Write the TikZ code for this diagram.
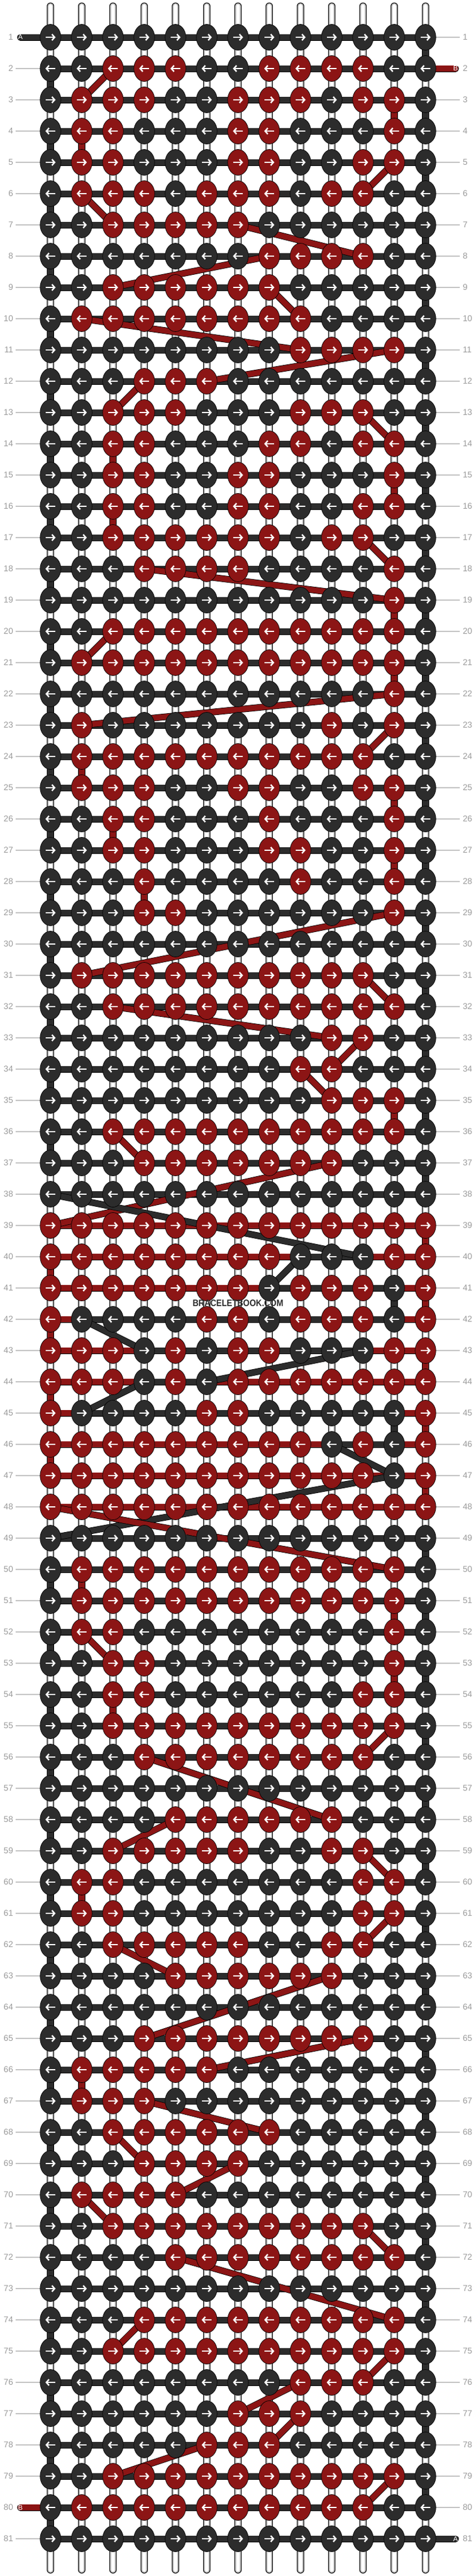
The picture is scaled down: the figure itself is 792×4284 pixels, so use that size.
\documentclass[tikz,border=0pt]{standalone}
\usepackage{fontspec}
\setmainfont{Liberation Sans}
\newfontfamily\watermarkfont[FakeStretch=0.88]{Liberation Sans}
\usetikzlibrary{shapes.geometric,arrows.meta}

\definecolor{darkthread}{HTML}{2C2C2C}
\definecolor{redthread}{HTML}{8C1515}
\definecolor{rownum}{HTML}{9B9B9B}
\definecolor{rowline}{HTML}{C4C4C4}
\definecolor{tubeedge}{HTML}{B8B8B8}

\pgfdeclarelayer{background}
\pgfdeclarelayer{tubes}
\pgfdeclarelayer{threads}
\pgfsetlayers{background,tubes,threads,main}

\tikzset{
    thread/.style={draw=black, line width=0.8pt, double=#1, double distance=9.4pt},
    stub/.style={thread=#1, line cap=round},
    tube/.style={line cap=round, line width=#1},
}

\newcount\minA \newcount\maxA \newcount\minB \newcount\maxB
\newcount\lastArow \newcount\lastAcol \newcount\lastBrow \newcount\lastBcol
\newcount\inKnot \newcount\outKnot
\def\readspan#1/#2/#3/#4\relax{\def\loA{#1}\def\hiA{#2}\def\loB{#3}\def\hiB{#4}}

\begin{document}
\begin{tikzpicture}[x=1pt, y=-1pt,
    knot/.style={ellipse, draw=black, line width=0.7pt, inner sep=0pt, minimum width=34.5pt, minimum height=43pt},
    knot0/.style={knot, fill=darkthread},
    knot1/.style={knot, fill=redthread},
    go right/.style={path picture={\draw[white, line width=2.4pt, -{Straight Barb[length=4.5pt, width=10pt]}] ([xshift=-8pt]path picture bounding box.center) -- ([xshift=8.5pt]path picture bounding box.center);}},
    go left/.style={path picture={\draw[white, line width=2.4pt, -{Straight Barb[length=4.5pt, width=10pt]}] ([xshift=8pt]path picture bounding box.center) -- ([xshift=-8.5pt]path picture bounding box.center);}},
    row number/.style={text=rownum, font=\fontsize{14}{14}\selectfont, inner sep=0pt},
    end label/.style={text=white, font=\fontsize{11.5}{11.5}\selectfont, inner sep=0pt}]

\useasboundingbox (0,0) rectangle (792,4284);
\begin{pgfonlayer}{background}
    \fill[white] (0,0) rectangle (792,4284);
\end{pgfonlayer}

% knots, row by row (0 = dark thread A, 1 = red thread B)
\foreach \r/\row in {
    1/{0,0,0,0,0,0,0,0,0,0,0,0,0},
    2/{0,0,1,1,1,0,0,1,1,1,1,0,0},
    3/{0,1,1,1,0,0,1,1,1,0,1,1,0},
    4/{0,1,1,0,0,0,1,1,0,0,0,1,0},
    5/{0,1,1,0,0,0,1,1,0,0,1,1,0},
    6/{0,1,1,1,0,1,1,1,0,1,1,0,0},
    7/{0,0,1,1,1,1,1,0,0,0,0,0,0},
    8/{0,0,0,0,0,0,0,1,1,1,1,0,0},
    9/{0,0,1,1,1,1,1,1,0,0,0,0,0},
    10/{0,1,1,1,1,1,1,1,1,0,0,0,0},
    11/{0,0,0,0,0,0,0,0,1,1,1,1,0},
    12/{0,0,0,1,1,1,0,0,0,0,0,0,0},
    13/{0,0,1,1,1,0,0,0,1,1,1,0,0},
    14/{0,0,1,1,0,0,0,1,1,0,1,1,0},
    15/{0,0,1,1,0,0,1,1,0,0,0,1,0},
    16/{0,0,1,1,0,0,1,1,0,0,1,1,0},
    17/{0,0,1,1,1,1,1,1,0,1,1,0,0},
    18/{0,0,0,1,1,1,1,0,0,0,0,1,0},
    19/{0,0,0,0,0,0,0,0,0,0,0,1,0},
    20/{0,0,1,1,1,1,1,1,1,1,1,1,0},
    21/{0,1,1,1,1,1,1,1,1,1,1,1,0},
    22/{0,0,0,0,0,0,0,0,0,0,0,1,0},
    23/{0,1,0,0,0,0,0,0,0,1,0,1,0},
    24/{0,1,1,1,1,1,1,1,1,1,1,0,0},
    25/{0,1,1,1,0,0,1,1,0,0,1,1,0},
    26/{0,0,1,1,0,0,0,1,0,0,0,1,0},
    27/{0,0,1,1,0,0,0,1,1,0,0,1,0},
    28/{0,0,0,1,0,0,0,0,1,0,0,1,0},
    29/{0,0,0,1,1,0,0,0,0,0,0,1,0},
    30/{0,0,0,0,0,0,0,0,0,0,0,0,0},
    31/{0,1,1,1,1,1,1,1,1,1,1,0,0},
    32/{0,0,1,1,1,1,1,1,1,1,1,1,0},
    33/{0,0,0,0,0,0,0,0,0,1,1,0,0},
    34/{0,0,0,0,0,0,0,0,1,1,0,0,0},
    35/{0,0,0,0,0,0,0,0,0,1,1,1,0},
    36/{0,0,1,1,1,1,1,1,1,1,1,1,0},
    37/{0,0,0,1,1,1,1,1,1,1,0,0,0},
    38/{0,0,0,0,0,0,0,0,0,0,0,0,0},
    39/{1,1,1,1,1,1,1,1,1,1,1,1,1},
    40/{1,1,1,1,1,1,1,1,0,0,0,1,1},
    41/{1,1,1,1,1,1,1,0,1,1,1,0,1},
    42/{1,0,0,0,0,1,1,0,1,1,1,0,1},
    43/{1,1,1,0,1,0,1,1,0,0,0,1,1},
    44/{1,1,1,0,1,0,1,1,1,1,1,1,1},
    45/{1,0,0,0,0,1,1,0,0,0,0,0,1},
    46/{1,1,1,1,1,1,1,1,1,0,1,0,1},
    47/{1,1,1,1,1,1,1,1,1,1,1,0,1},
    48/{1,1,1,1,1,1,1,1,1,1,1,1,1},
    49/{0,0,0,0,0,0,0,0,0,0,0,0,0},
    50/{0,1,1,1,1,1,1,1,1,1,1,1,0},
    51/{0,1,1,1,1,1,1,1,1,1,1,1,0},
    52/{0,1,1,0,0,0,0,0,0,0,0,1,0},
    53/{0,0,1,1,0,0,0,0,0,0,0,1,0},
    54/{0,0,1,1,0,0,0,0,0,0,1,1,0},
    55/{0,0,1,1,1,1,1,1,1,1,1,1,0},
    56/{0,0,0,1,1,1,1,1,1,1,1,0,0},
    57/{0,0,0,0,0,0,0,0,0,0,0,0,0},
    58/{0,0,0,0,1,1,1,1,1,1,0,0,0},
    59/{0,0,1,1,1,1,1,0,0,1,1,0,0},
    60/{0,1,1,0,0,0,0,0,0,0,1,1,0},
    61/{0,1,1,0,0,0,0,0,0,0,1,1,0},
    62/{0,0,1,1,1,1,1,0,0,1,1,0,0},
    63/{0,0,0,0,1,1,1,1,1,1,0,0,0},
    64/{0,0,0,0,0,0,0,0,0,0,0,0,0},
    65/{0,0,0,1,1,1,1,1,1,1,1,0,0},
    66/{0,1,1,1,1,1,0,0,0,0,0,0,0},
    67/{0,1,1,1,0,0,0,0,0,0,0,0,0},
    68/{0,0,1,1,1,1,1,1,0,0,0,0,0},
    69/{0,0,0,1,1,1,1,0,0,0,0,0,0},
    70/{0,1,1,1,1,0,0,0,0,0,0,0,0},
    71/{0,0,1,1,1,1,1,1,1,1,1,0,0},
    72/{0,0,0,0,1,1,1,1,1,1,1,1,0},
    73/{0,0,0,0,0,0,0,0,0,0,0,0,0},
    74/{0,0,0,1,1,1,1,1,1,1,1,1,0},
    75/{0,0,1,1,1,1,1,1,1,1,1,1,0},
    76/{0,0,0,0,0,0,0,0,1,1,1,0,0},
    77/{0,0,0,0,0,0,1,1,1,0,0,0,0},
    78/{0,0,0,0,0,1,1,1,0,0,0,0,0},
    79/{0,0,1,1,1,1,1,1,1,1,1,1,0},
    80/{0,1,1,1,1,1,1,1,1,1,1,0,0},
    81/{0,0,0,0,0,0,0,0,0,0,0,0,0}}{
    \global\minA=99 \global\maxA=0 \global\minB=99 \global\maxB=0
    \ifodd\r \def\way{go right}\else \def\way{go left}\fi
    \foreach \k [count=\c] in \row {
        \node[knot\k, \way] (k-\r-\c) at ({84+52*(\c-1)}, {62+52*(\r-1)}) {};
        \ifnum\k=0
            \ifnum\minA=99 \global\minA=\c\relax\fi
            \global\maxA=\c\relax
        \else
            \ifnum\minB=99 \global\minB=\c\relax\fi
            \global\maxB=\c\relax
        \fi
    }
    \expandafter\xdef\csname span-\r\endcsname{\the\minA/\the\maxA/\the\minB/\the\maxB}
}

% strings, row numbers and guide lines
\begin{pgfonlayer}{tubes}
\foreach \c in {1,...,13}{
    \coordinate (top-\c) at ({84+52*(\c-1)}, 10);
    \coordinate (bot-\c) at ({84+52*(\c-1)}, 4274);
    \draw[tube=11.5pt, black] (top-\c) -- (bot-\c);
    \draw[tube=9.5pt, tubeedge] (top-\c) -- (bot-\c);
    \draw[tube=6pt, white] (top-\c) -- (bot-\c);
}
\foreach \r in {1,...,81}{
    \node[row number, anchor=east] (num-l-\r) at (22, {62+52*(\r-1)}) {\r};
    \node[row number, anchor=west] (num-r-\r) at (770, {62+52*(\r-1)}) {\r};
    \ifnum\r=1 \else\ifnum\r=80 \else
        \draw[rowline, line width=1.3pt] ([xshift=4pt]num-l-\r.east) -- (k-\r-1.center);
    \fi\fi
    \ifnum\r=2 \else\ifnum\r=81 \else
        \draw[rowline, line width=1.3pt] (k-\r-13.center) -- ([xshift=-5pt]num-r-\r.west);
    \fi\fi
}
\end{pgfonlayer}

\begin{pgfonlayer}{threads}
% row bars: red first, dark on top
\foreach \r in {1,...,81}{
    \expandafter\expandafter\expandafter\readspan\csname span-\r\endcsname\relax
    \ifnum\loB<\hiB \draw[thread=redthread] (k-\r-\loB.center) -- (k-\r-\hiB.center);\fi
    \ifnum\loA<\hiA \draw[thread=darkthread] (k-\r-\loA.center) -- (k-\r-\hiA.center);\fi
}
% each thread from its last knot in a row to its first knot further down
\global\lastArow=0 \global\lastBrow=0
\foreach \r in {1,...,81}{
    \expandafter\expandafter\expandafter\readspan\csname span-\r\endcsname\relax
    \ifnum\hiA>0
        \ifodd\r \inKnot=\loA \outKnot=\hiA \else \inKnot=\hiA \outKnot=\loA \fi
        \ifnum\lastArow>0
            \edef\fromknot{k-\the\lastArow-\the\lastAcol}
            \edef\toknot{k-\r-\the\inKnot}
            \draw[thread=darkthread] (\fromknot.center) -- (\toknot.center);
        \fi
        \global\lastArow=\r\relax \global\lastAcol=\outKnot
    \fi
    \ifnum\hiB>0
        \ifodd\r \inKnot=\loB \outKnot=\hiB \else \inKnot=\hiB \outKnot=\loB \fi
        \ifnum\lastBrow>0
            \edef\fromknot{k-\the\lastBrow-\the\lastBcol}
            \edef\toknot{k-\r-\the\inKnot}
            \draw[thread=redthread] (\fromknot.center) -- (\toknot.center);
        \fi
        \global\lastBrow=\r\relax \global\lastBcol=\outKnot
    \fi
}
% loose ends
\coordinate (A-in) at (34, 62);
\coordinate (B-in) at (758, 114);
\coordinate (B-out) at (34, 4170);
\coordinate (A-out) at (758, 4222);
\draw[stub=darkthread] (A-in) -- (k-1-1.center);
\draw[stub=redthread] (k-2-13.center) -- (B-in);
\draw[stub=redthread] (k-80-1.center) -- (B-out);
\draw[stub=darkthread] (k-81-13.center) -- (A-out);
\end{pgfonlayer}

\node[end label] (A-in-label) at (A-in) {A};
\node[end label] (B-in-label) at (B-in) {B};
\node[end label] (B-out-label) at (B-out) {B};
\node[end label] (A-out-label) at (A-out) {A};

\node[text=darkthread, font=\watermarkfont\bfseries\fontsize{15.5}{15.5}\selectfont, inner sep=0pt] (watermark) at (396, 2167) {BRACELETBOOK.COM};
\end{tikzpicture}
\end{document}
